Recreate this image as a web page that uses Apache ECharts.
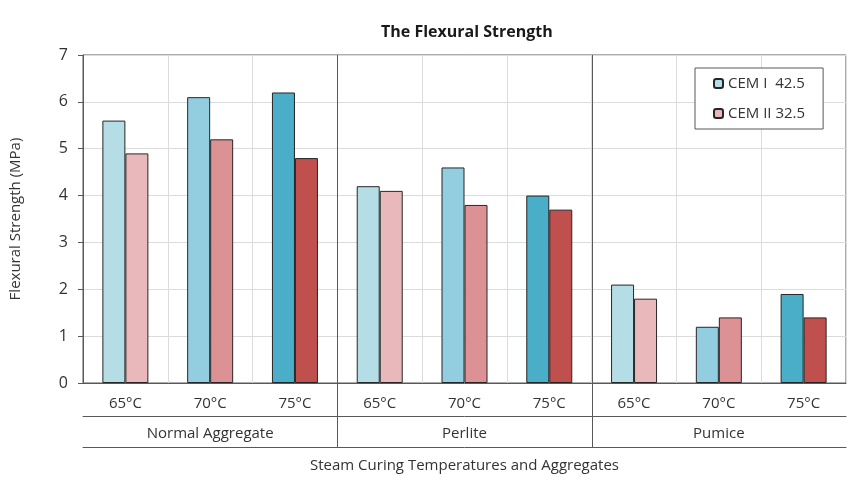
<!DOCTYPE html>
<html>
<head>
<meta charset="utf-8">
<script src="https://cdn.jsdelivr.net/npm/echarts@6/dist/echarts.min.js"></script>
<style>
  html, body { margin: 0; padding: 0; background: #fff; }
  #chart { width: 864px; height: 486px; }
</style>
</head>
<body>
<div id="chart"></div>
<script>
var temps = ['65°C', '70°C', '75°C', '65°C', '70°C', '75°C', '65°C', '70°C', '75°C']
var groups = ['Normal Aggregate', 'Perlite', 'Pumice']
var groupEnds = [2, 5] // last temp index before a group boundary
var cem1 = [5.6, 6.1, 6.2, 4.2, 4.6, 4.0, 2.1, 1.2, 1.9]
var cem2 = [4.9, 5.2, 4.8, 4.1, 3.8, 3.7, 1.8, 1.4, 1.4]
var blues = ['#b5dde5', '#93cde0', '#4aaec8']
var reds = ['#e8b8bb', '#dc9294', '#c0504d']

var font = '"Open Sans", "Noto Sans", sans-serif'
var dark = '#595959'
var txt = '#333333'

function colored(vals, pal) {
    return vals.map(function (v, i) {
        return { value: v, itemStyle: { color: pal[i % 3] } }
    })
}

var myChart = echarts.init(document.getElementById('chart'), null, { renderer: 'canvas' })
var option = {
    animation: false,
    backgroundColor: '#fff',
    textStyle: { fontFamily: font },
    title: {
        text: 'The Flexural Strength',
        left: 376,
        top: 19,
        textStyle: { fontSize: 16, fontWeight: 'bold', color: '#1a1a1a', fontFamily: font }
    },
    legend: {
        orient: 'vertical',
        left: 695,
        top: 68,
        padding: [8, 18, 8, 18],
        itemGap: 15,
        itemWidth: 9,
        itemHeight: 9,
        borderColor: dark,
        borderWidth: 1,
        backgroundColor: '#fff',
        textStyle: { fontSize: 15, color: txt, fontFamily: font },
        data: ['CEM I  42.5', 'CEM II 32.5']
    },
    grid: {
        left: 82, right: 18, top: 55, bottom: 103,
        show: true, borderColor: dark, borderWidth: 1
    },
    xAxis: [{
        type: 'category',
        data: temps,
        position: 'bottom',
        axisLine: { lineStyle: { color: dark } },
        axisTick: { length: 5, lineStyle: { color: dark } },
        axisLabel: { fontSize: 15, color: txt, margin: 13, fontFamily: font },
        splitLine: { show: true, lineStyle: { color: '#dcdcdc' } }
    }, {
        type: 'category',
        data: groups,
        position: 'bottom',
        offset: 33,
        axisLine: { lineStyle: { color: dark } },
        axisTick: { show: false },
        axisLabel: { fontSize: 15, color: txt, margin: 10, fontFamily: font }
    }, {
        type: 'category',
        data: groups,
        position: 'bottom',
        offset: 64,
        axisLine: { lineStyle: { color: dark } },
        axisTick: { show: false },
        axisLabel: { show: false },
        name: 'Steam Curing Temperatures and Aggregates',
        nameLocation: 'middle',
        nameGap: 11,
        nameTextStyle: { fontSize: 15, color: txt, fontFamily: font, verticalAlign: 'top' }
    }],
    yAxis: {
        type: 'value',
        min: 0, max: 7, interval: 1,
        axisLine: { show: true, lineStyle: { color: dark } },
        axisTick: { show: true, length: 5, lineStyle: { color: dark } },
        axisLabel: { fontSize: 16, color: txt, margin: 15, fontFamily: font },
        splitLine: { show: true, lineStyle: { color: '#dcdcdc' } },
        name: 'Flexural Strength (MPa)',
        nameLocation: 'middle',
        nameGap: 60,
        nameTextStyle: { fontSize: 15, color: txt, fontFamily: font }
    },
    series: [{
        name: 'CEM I  42.5',
        type: 'bar',
        barWidth: 23,
        barGap: '0%',
        itemStyle: { color: blues[0], borderColor: '#262626', borderWidth: 1 },
        data: colored(cem1, blues)
    }, {
        name: 'CEM II 32.5',
        type: 'bar',
        barWidth: 23,
        barGap: '0%',
        itemStyle: { color: reds[0], borderColor: '#262626', borderWidth: 1 },
        data: colored(cem2, reds)
    }, {
        // group separator lines, running from the plot top down to the last axis line
        type: 'custom',
        silent: true,
        clip: false,
        z: 5,
        renderItem: function (params, api) {
            var c = api.coord([api.value(0), 0])
            var x = Math.round(c[0] + api.size([1, 0])[0] / 2) + 0.5
            var top = api.coord([0, 7])[1]
            return {
                type: 'line',
                shape: { x1: x, y1: top, x2: x, y2: c[1] + 64 },
                style: { stroke: dark, lineWidth: 1 }
            }
        },
        data: groupEnds.map(function (i) { return [i, 0] })
    }]
}
myChart.setOption(option)
</script>
</body>
</html>
